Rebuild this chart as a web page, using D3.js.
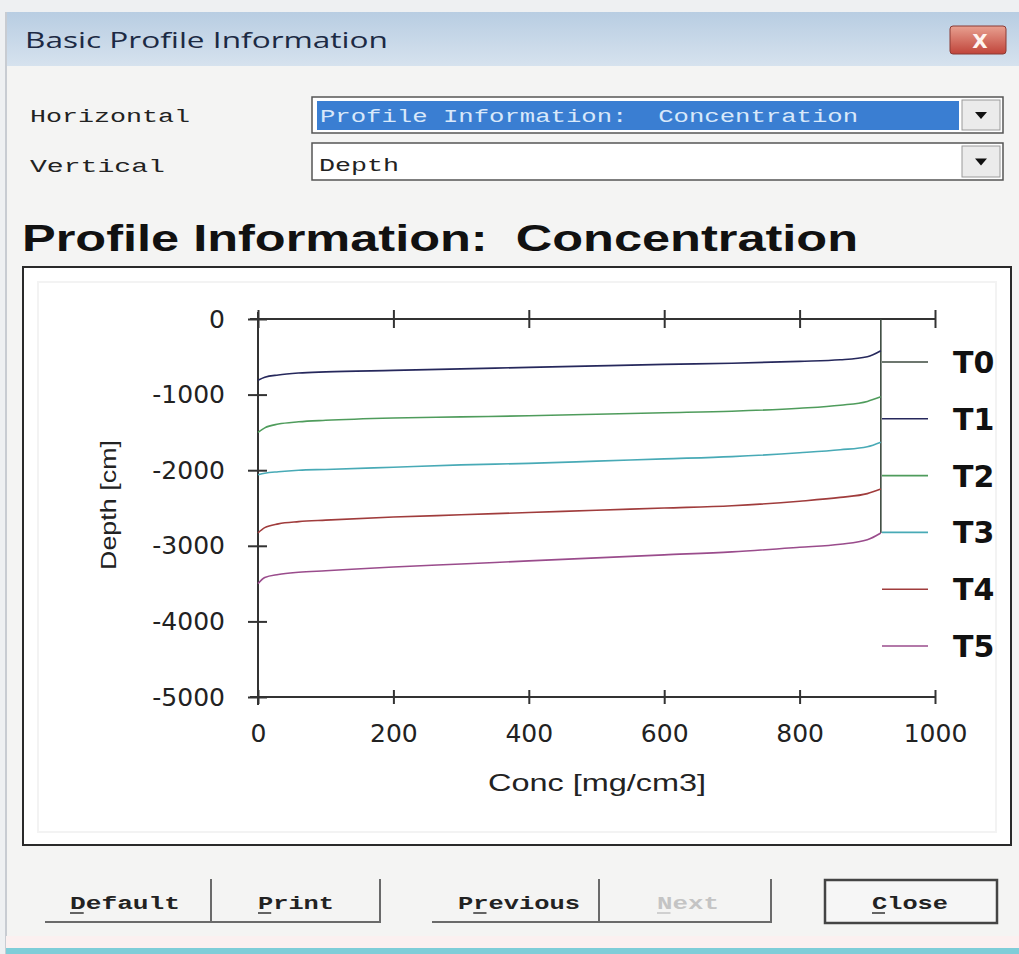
<!DOCTYPE html>
<html>
<head>
<meta charset="utf-8">
<script src="https://cdn.jsdelivr.net/npm/d3@7/dist/d3.min.js"></script>
<style>
  html, body { margin: 0; padding: 0; background: #eef0f2; }
  svg { display: block; }
  text.pre { white-space: pre; }
</style>
</head>
<body>
<svg id="chart" width="1019" height="954"></svg>
<script>
// ---------- data ----------
const seriesNames = ["T0", "T1", "T2", "T3", "T4", "T5"];
const seriesColors = ["#3d4a3f", "#26285c", "#4f9c5c", "#48aab6", "#a03c3c", "#9a4c8c"];
const xTicks = [0, 200, 400, 600, 800, 1000];
const yTicks = [0, -1000, -2000, -3000, -4000, -5000];

const concT0 = [920, 920];
const depthT0 = [0, -2830];

const conc = [0, 10, 30, 60, 100, 200, 300, 400, 500, 600, 700, 800, 860, 900, 920];
const depthT1 = [-810, -770, -740, -715, -700, -680, -660, -640, -620, -600, -585, -560, -540, -500, -420];
const depthT2 = [-1500, -1440, -1390, -1360, -1340, -1310, -1295, -1280, -1260, -1240, -1220, -1180, -1140, -1090, -1030];
const depthT3 = [-2060, -2040, -2020, -2000, -1990, -1960, -1930, -1910, -1880, -1850, -1820, -1770, -1730, -1690, -1630];
const depthT4 = [-2830, -2760, -2710, -2680, -2660, -2620, -2590, -2560, -2530, -2500, -2470, -2410, -2360, -2310, -2250];
const depthT5 = [-3500, -3420, -3380, -3350, -3330, -3280, -3240, -3200, -3160, -3120, -3080, -3020, -2980, -2920, -2830];

const series = [
  {name: seriesNames[0], xs: concT0, ys: depthT0},
  {name: seriesNames[1], xs: conc, ys: depthT1},
  {name: seriesNames[2], xs: conc, ys: depthT2},
  {name: seriesNames[3], xs: conc, ys: depthT3},
  {name: seriesNames[4], xs: conc, ys: depthT4},
  {name: seriesNames[5], xs: conc, ys: depthT5}
];

// ---------- drawing ----------
const svg = d3.select("#chart");
const defs = svg.append("defs");
const tg = defs.append("linearGradient").attr("id", "titleGrad").attr("x1", 0).attr("y1", 0).attr("x2", 0).attr("y2", 1);
tg.append("stop").attr("offset", "0%").attr("stop-color", "#b8cde2");
tg.append("stop").attr("offset", "100%").attr("stop-color", "#d6e2ee");
const cg = defs.append("linearGradient").attr("id", "closeGrad").attr("x1", 0).attr("y1", 0).attr("x2", 0).attr("y2", 1);
cg.append("stop").attr("offset", "0%").attr("stop-color", "#e8a090");
cg.append("stop").attr("offset", "100%").attr("stop-color", "#c0443a");

// window body
svg.append("rect").attr("x", 6).attr("y", 12).attr("width", 1013).attr("height", 942).attr("fill", "#f4f4f3");
svg.append("rect").attr("x", 6).attr("y", 12).attr("width", 1013).attr("height", 54).attr("fill", "url(#titleGrad)");
svg.append("line").attr("x1", 6).attr("x2", 6).attr("y1", 12).attr("y2", 954).attr("stroke", "#c8ccd2").attr("stroke-width", 2);
svg.append("text").attr("x", 25).attr("y", 48).attr("font-family", "Open Sans, Noto Sans, sans-serif")
  .attr("font-size", 21).attr("fill", "#1c2a44").attr("textLength", 363).attr("lengthAdjust", "spacingAndGlyphs")
  .text("Basic Profile Information");
// close button
svg.append("rect").attr("x", 950).attr("y", 26).attr("width", 56).attr("height", 28).attr("rx", 3)
  .attr("fill", "url(#closeGrad)").attr("stroke", "#8a3a34");
svg.append("text").attr("x", 980).attr("y", 48).attr("text-anchor", "middle").attr("font-family", "DejaVu Sans, sans-serif")
  .attr("font-size", 20).attr("font-weight", "bold").attr("fill", "#fff4f0").text("X");

// bottom window edge
svg.append("rect").attr("x", 6).attr("y", 936).attr("width", 1013).attr("height", 12).attr("fill", "#fbf0f0");
svg.append("rect").attr("x", 6).attr("y", 948).attr("width", 1013).attr("height", 6).attr("fill", "#7fcdd8");

// dropdown labels
const monoFont = "Liberation Mono, DejaVu Sans Mono, monospace";
svg.append("text").attr("x", 30).attr("y", 122).attr("font-family", monoFont).attr("font-size", 19)
  .attr("fill", "#222").attr("textLength", 160).attr("lengthAdjust", "spacingAndGlyphs").text("Horizontal");
svg.append("text").attr("x", 30).attr("y", 172).attr("font-family", monoFont).attr("font-size", 19)
  .attr("fill", "#222").attr("textLength", 135).attr("lengthAdjust", "spacingAndGlyphs").text("Vertical");

function dropdown(y, h) {
  svg.append("rect").attr("x", 312).attr("y", y).attr("width", 691).attr("height", h)
    .attr("fill", "#ffffff").attr("stroke", "#555").attr("stroke-width", 1.5);
  svg.append("rect").attr("x", 962).attr("y", y + 3).attr("width", 38).attr("height", h - 6)
    .attr("fill", "#ebebeb").attr("stroke", "#9a9a9a");
  const cx = 981, cy = y + h / 2;
  svg.append("path").attr("d", `M${cx - 6},${cy - 3}L${cx + 6},${cy - 3}L${cx},${cy + 4}Z`).attr("fill", "#111");
}
dropdown(97, 36);
svg.append("rect").attr("x", 317).attr("y", 101).attr("width", 642).attr("height", 29).attr("fill", "#3a7ed2");
svg.append("text").attr("class", "pre").attr("x", 320).attr("y", 122).attr("font-family", monoFont).attr("font-size", 18)
  .attr("fill", "#d8e8fa").attr("textLength", 538).attr("lengthAdjust", "spacingAndGlyphs")
  .text("Profile Information:  Concentration");
dropdown(143, 37);
svg.append("text").attr("x", 319).attr("y", 171).attr("font-family", monoFont).attr("font-size", 19)
  .attr("fill", "#222").attr("textLength", 80).attr("lengthAdjust", "spacingAndGlyphs").text("Depth");

// chart title
svg.append("text").attr("class", "pre").attr("x", 22).attr("y", 251).attr("font-family", "Liberation Sans, Arial, sans-serif")
  .attr("font-size", 37).attr("font-weight", "bold").attr("fill", "#111")
  .attr("textLength", 836).attr("lengthAdjust", "spacingAndGlyphs")
  .text("Profile Information:  Concentration");

// chart panel
svg.append("rect").attr("x", 23).attr("y", 267).attr("width", 988).attr("height", 578)
  .attr("fill", "#ffffff").attr("stroke", "#2a2a2a").attr("stroke-width", 2);
svg.append("rect").attr("x", 38).attr("y", 282).attr("width", 958).attr("height", 550)
  .attr("fill", "none").attr("stroke", "#f3f3f3").attr("stroke-width", 2);

// scales
const x = d3.scaleLinear().domain([0, 1000]).range([258, 935]);
const y = d3.scaleLinear().domain([-5000, 0]).range([697, 319]);

const tickFont = "DejaVu Sans, sans-serif";
const plain = d => String(d);
// bottom axis
const gB = svg.append("g").attr("transform", `translate(0,${y(-5000)})`)
  .call(d3.axisBottom(x).tickValues(xTicks).tickFormat(plain).tickSize(8).tickPadding(12).tickSizeOuter(0));
// top axis (no labels)
const gT = svg.append("g").attr("transform", `translate(0,${y(0)})`)
  .call(d3.axisTop(x).tickValues(xTicks).tickSize(8).tickFormat("").tickSizeOuter(0));
// left axis
const gL = svg.append("g").attr("transform", `translate(${x(0)},0)`)
  .call(d3.axisLeft(y).tickValues(yTicks).tickFormat(plain).tickSize(10).tickPadding(23).tickSizeOuter(0));

[gB, gT, gL].forEach(g => {
  g.select(".domain").attr("stroke", "#333").attr("stroke-width", 2);
  g.selectAll(".tick line").attr("stroke", "#333").attr("stroke-width", 2);
  g.selectAll(".tick text").attr("font-family", tickFont).attr("font-size", 25).attr("fill", "#222");
});
gB.selectAll(".tick line").attr("y1", -7).attr("y2", 7);
gB.selectAll(".tick text").attr("y", 27);
gT.selectAll(".tick line").attr("y1", -9).attr("y2", 9);
gL.selectAll(".tick line").attr("x1", -10).attr("x2", 9);
gB.select(".domain").attr("d", `M${x(0) - 8},0H${x(1000)}`);
gT.select(".domain").attr("d", `M${x(0) - 8},0H${x(1000)}`);
gL.select(".domain").attr("d", `M0,${y(0) - 7}V${y(-5000) + 8}`);

// axis titles
svg.append("text").attr("x", 597).attr("y", 791).attr("text-anchor", "middle")
  .attr("font-family", "Liberation Sans, Arial, sans-serif").attr("font-size", 24).attr("fill", "#222")
  .attr("textLength", 218).attr("lengthAdjust", "spacingAndGlyphs").text("Conc [mg/cm3]");
svg.append("text").attr("transform", "translate(116,505) rotate(-90)").attr("text-anchor", "middle")
  .attr("font-family", "Liberation Sans, Arial, sans-serif").attr("font-size", 22).attr("fill", "#222")
  .attr("textLength", 130).attr("lengthAdjust", "spacingAndGlyphs").text("Depth [cm]");

// curves
const line = d3.line().x(d => x(d[0])).y(d => y(d[1])).curve(d3.curveMonotoneX);
const lineStraight = d3.line().x(d => x(d[0])).y(d => y(d[1]));
series.forEach((s, i) => {
  const pts = s.xs.map((v, j) => [v, s.ys[j]]);
  svg.append("path").attr("d", i === 0 ? lineStraight(pts) : line(pts))
    .attr("fill", "none").attr("stroke", seriesColors[i]).attr("stroke-width", 1.6);
});

// legend
const legY = d3.scalePoint().domain(seriesNames).range([362, 646]);
const leg = svg.append("g");
seriesNames.forEach((n, i) => {
  leg.append("line").attr("x1", 882).attr("x2", 928).attr("y1", legY(n)).attr("y2", legY(n))
    .attr("stroke", seriesColors[i]).attr("stroke-width", 1.6);
  leg.append("text").attr("x", 953).attr("y", legY(n) + 11).attr("font-family", "DejaVu Sans, sans-serif")
    .attr("font-size", 30).attr("font-weight", "bold").attr("fill", "#111").text(n);
});

// buttons
const buttons = [
  {label: "Default", x0: 45, x1: 211, tx: 70, tl: 110, u: 0, dis: false},
  {label: "Print", x0: 211, x1: 380, tx: 258, tl: 76, u: 0, dis: false},
  {label: "Previous", x0: 432, x1: 599, tx: 458, tl: 122, u: 1, dis: false},
  {label: "Next", x0: 599, x1: 771, tx: 657, tl: 62, u: 0, dis: true}
];
buttons.forEach(b => {
  svg.append("line").attr("x1", b.x0).attr("x2", b.x1).attr("y1", 922).attr("y2", 922)
    .attr("stroke", "#6a6a6a").attr("stroke-width", 2);
  svg.append("line").attr("x1", b.x1).attr("x2", b.x1).attr("y1", 879).attr("y2", 923)
    .attr("stroke", "#6a6a6a").attr("stroke-width", 2);
  svg.append("text").attr("x", b.tx).attr("y", 909).attr("font-family", monoFont).attr("font-size", 19)
    .attr("font-weight", "bold").attr("fill", b.dis ? "#c4c4c4" : "#222")
    .attr("textLength", b.tl).attr("lengthAdjust", "spacingAndGlyphs").text(b.label);
  const cw = b.tl / b.label.length;
  svg.append("line").attr("x1", b.tx + cw * b.u).attr("x2", b.tx + cw * (b.u + 1) - 2)
    .attr("y1", 913).attr("y2", 913).attr("stroke", b.dis ? "#c4c4c4" : "#333").attr("stroke-width", 1.5);
});
// Close (default button)
svg.append("rect").attr("x", 825).attr("y", 880).attr("width", 172).attr("height", 43)
  .attr("fill", "#f6f6f6").attr("stroke", "#444").attr("stroke-width", 2.5);
svg.append("text").attr("x", 872).attr("y", 909).attr("font-family", monoFont).attr("font-size", 19)
  .attr("font-weight", "bold").attr("fill", "#222").attr("textLength", 76)
  .attr("lengthAdjust", "spacingAndGlyphs").text("Close");
svg.append("line").attr("x1", 872).attr("x2", 885).attr("y1", 913).attr("y2", 913)
  .attr("stroke", "#333").attr("stroke-width", 1.5);
</script>
</body>
</html>
